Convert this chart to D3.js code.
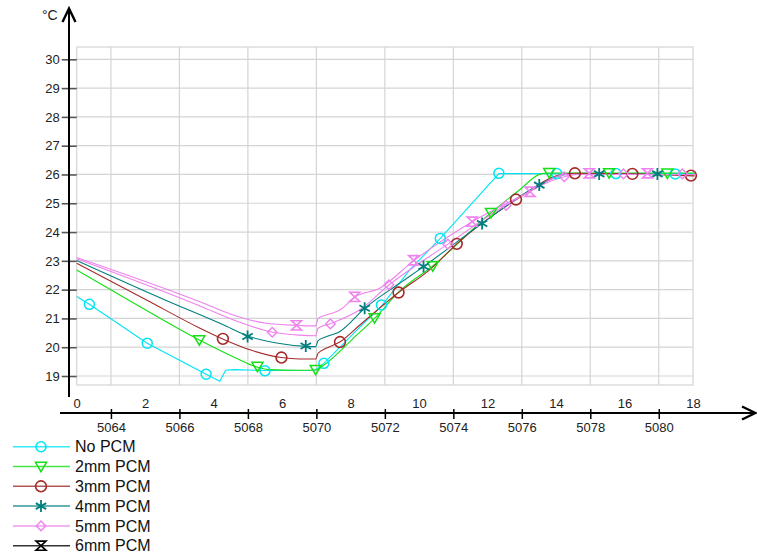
<!DOCTYPE html>
<html>
<head>
<meta charset="utf-8">
<script src="https://cdn.jsdelivr.net/npm/d3@7/dist/d3.min.js"></script>
<style>
  html, body { margin: 0; padding: 0; background: #fff; }
  svg { display: block; font-family: "Liberation Sans", Arial, sans-serif; }
</style>
</head>
<body>
<svg id="chart" width="757" height="556"></svg>
<script>
// ---------------- DATA ----------------
const seriesNames = ["No PCM", "2mm PCM", "3mm PCM", "4mm PCM", "5mm PCM", "6mm PCM"];
const yTicks = [19, 20, 21, 22, 23, 24, 25, 26, 27, 28, 29, 30];
const timeTicks = [0, 2, 4, 6, 8, 10, 12, 14, 16, 18];
const stepTicks = [5064, 5066, 5068, 5070, 5072, 5074, 5076, 5078, 5080];

// line points [time, °C]
const noPcmLine = [[0,21.76],[0.37,21.49],[2.06,20.14],[3.78,19.06],[4.18,18.82],[4.35,19.2],[4.6,19.22],[5.5,19.19],[6.95,19.2],[7.22,19.44],[7.69,20.0],[8.27,20.7],[8.9,21.43],[9.72,22.68],[10.62,23.78],[12.33,26.03],[18.05,26.03]];
const pcm2Line = [[0,22.68],[1.51,21.64],[3.58,20.25],[4.57,19.67],[5.27,19.31],[5.64,19.22],[6.5,19.2],[6.98,19.21],[7.22,19.38],[7.68,19.85],[8.07,20.3],[8.7,21.0],[9.43,21.95],[10.4,22.82],[12.1,24.67],[12.93,25.46],[13.55,26.02],[13.75,26.05],[18.05,26.05]];
const pcm3Line = [[0,22.92],[2.04,21.64],[3.6,20.66],[4.28,20.28],[5.06,19.91],[5.98,19.64],[6.5,19.59],[6.98,19.59],[7.05,19.79],[7.3,19.97],[7.68,20.18],[8.27,20.77],[9.4,21.9],[10.3,22.68],[11.1,23.59],[12.83,25.12],[14.1,25.98],[14.55,26.04],[16.23,26.02],[18.05,25.95]];
const pcm4Line = [[0,23.01],[2.58,21.64],[4.28,20.78],[5.0,20.39],[5.98,20.12],[6.69,20.03],[6.98,20.02],[7.05,20.23],[7.3,20.37],[7.68,20.54],[8.41,21.35],[9.43,22.22],[10.13,22.8],[11.84,24.3],[13.51,25.63],[14.3,26.0],[18.05,26.0]];
const pcm5Line = [[0,23.07],[3.6,21.43],[4.57,20.95],[5.72,20.52],[6.5,20.42],[6.98,20.4],[7.05,20.66],[7.39,20.81],[8.27,21.3],[9.12,22.16],[10.84,23.58],[12.54,24.94],[14.24,25.92],[14.6,26.0],[18.05,26.0]];
const pcm6Line = [[0,23.12],[3.6,21.58],[4.57,21.12],[5.54,20.83],[6.42,20.76],[6.98,20.74],[7.05,21.0],[7.4,21.16],[7.7,21.3],[8.12,21.74],[8.85,22.05],[9.84,23.0],[11.55,24.36],[13.24,25.4],[14.3,26.0],[18.05,26.0]];

// marker points [time, °C]
const noPcmMarks = [[0.37,21.49],[2.06,20.14],[3.78,19.06],[5.5,19.18],[7.22,19.44],[8.9,21.47],[10.62,23.78],[12.33,26.04],[14.02,26.03],[15.75,26.03],[17.48,26.02]];
const pcm2Marks = [[3.58,20.25],[5.28,19.33],[6.98,19.22],[8.7,21.02],[10.4,22.82],[12.1,24.67],[13.8,26.06],[15.55,26.05],[17.25,26.04]];
const pcm3Marks = [[4.27,20.29],[5.98,19.64],[7.69,20.18],[9.4,21.9],[11.1,23.59],[12.83,25.13],[14.55,26.04],[16.23,26.02],[17.94,25.96]];
const pcm4Marks = [[4.99,20.37],[6.69,20.04],[8.41,21.35],[10.13,22.8],[11.84,24.3],[13.51,25.63],[15.26,26.02],[16.96,26.02]];
const pcm5Marks = [[5.71,20.52],[7.41,20.81],[9.12,22.17],[10.84,23.58],[12.54,24.92],[14.24,25.92],[15.97,26.02],[17.69,26.02]];
const pcm6Marks = [[6.42,20.76],[8.12,21.75],[9.84,23.02],[11.55,24.36],[13.24,25.4],[14.97,26.04],[16.67,26.04]];

// ---------------- STYLE ----------------
const colors = ["#00e4f4", "#14e014", "#a52a2a", "#007f7f", "#ee82ee", "#ee82ee"];
const legendColors = ["#00e4f4", "#14e014", "#a52a2a", "#007f7f", "#ee82ee", "#000000"];
const shapes = ["circle", "triangle", "circleBig", "asterisk", "diamond", "hourglass"];
const curves = [d3.curveLinear, d3.curveMonotoneX, d3.curveMonotoneX, d3.curveMonotoneX, d3.curveMonotoneX, d3.curveMonotoneX];
const lines = [noPcmLine, pcm2Line, pcm3Line, pcm4Line, pcm5Line, pcm6Line];
const marks = [noPcmMarks, pcm2Marks, pcm3Marks, pcm4Marks, pcm5Marks, pcm6Marks];

const svg = d3.select("#chart");

const x = d3.scaleLinear().domain([0, 18]).range([76.7, 693]);
const xStep = d3.scaleLinear().domain([5063, 5081]).range([76.7, 693]);
const y = d3.scaleLinear().domain([19, 30]).range([376, 59.3]);

const boxTop = y.invert(47), boxBottom = y.invert(385);

// plot box + grid
const grid = svg.append("g");
grid.append("rect")
  .attr("x", x(0)).attr("y", y(boxTop))
  .attr("width", x(18) - x(0)).attr("height", y(boxBottom) - y(boxTop))
  .attr("fill", "#fff").attr("stroke", "#d4d4d4").attr("stroke-width", 1.2);
grid.selectAll("line.h").data(yTicks).join("line")
  .attr("x1", x(0)).attr("x2", x(18))
  .attr("y1", d => y(d)).attr("y2", d => y(d))
  .attr("stroke", "#d4d4d4").attr("stroke-width", 1.2);
grid.selectAll("line.v").data(stepTicks).join("line")
  .attr("x1", d => xStep(d)).attr("x2", d => xStep(d))
  .attr("y1", y(boxTop)).attr("y2", y(boxBottom))
  .attr("stroke", "#d4d4d4").attr("stroke-width", 1.2);

// y axis ticks + labels
const yAxis = svg.append("g").attr("transform", `translate(${x(0)},0)`)
  .call(d3.axisLeft(y).tickValues(yTicks).tickSize(15).tickPadding(2).tickFormat(d3.format("d")));
yAxis.select(".domain").remove();
yAxis.selectAll(".tick line").attr("stroke", "#555").attr("stroke-width", 1.6);
yAxis.selectAll("text").attr("font-size", 13).attr("fill", "#222").attr("font-family", "Liberation Sans, Arial, sans-serif");

// vertical black axis with arrow
svg.append("line").attr("x1", 69).attr("x2", 69).attr("y1", 397).attr("y2", 9)
  .attr("stroke", "#000").attr("stroke-width", 2);
svg.append("path").attr("d", "M62.5,22 L69,8.5 L75.5,22")
  .attr("fill", "none").attr("stroke", "#000").attr("stroke-width", 2.4).attr("stroke-linejoin", "miter");
svg.append("text").attr("x", 42).attr("y", 20).attr("font-size", 14).attr("fill", "#222").text("°C");

// top time labels
const tAxis = svg.append("g").attr("transform", "translate(0,396)")
  .call(d3.axisBottom(x).tickValues(timeTicks).tickSize(0).tickPadding(3).tickFormat(d3.format("d")));
tAxis.select(".domain").remove();
tAxis.selectAll("text").attr("font-size", 13).attr("fill", "#222").attr("font-family", "Liberation Sans, Arial, sans-serif");

// bottom step axis
const sAxis = svg.append("g").attr("transform", "translate(0,409)")
  .call(d3.axisBottom(xStep).tickValues(stepTicks).tickSize(10).tickPadding(4).tickFormat(d3.format("d")));
sAxis.select(".domain").remove();
sAxis.selectAll(".tick line").attr("stroke", "#000").attr("stroke-width", 1.5);
sAxis.selectAll("text").attr("font-size", 13).attr("fill", "#222").attr("font-family", "Liberation Sans, Arial, sans-serif");
svg.append("line").attr("x1", 60).attr("x2", 755).attr("y1", 413).attr("y2", 413)
  .attr("stroke", "#000").attr("stroke-width", 2);
svg.append("path").attr("d", "M742,406.5 L755.5,413 L742,419.5")
  .attr("fill", "none").attr("stroke", "#000").attr("stroke-width", 2.4);

// marker drawing
function drawMarker(g, shape, color) {
  const sw = 1.4;
  if (shape === "circle") {
    g.append("circle").attr("r", 5).attr("fill", "none").attr("stroke", color).attr("stroke-width", 1.5);
  } else if (shape === "circleBig") {
    g.append("circle").attr("r", 5.4).attr("fill", "none").attr("stroke", color).attr("stroke-width", 1.6);
  } else if (shape === "triangle") {
    g.append("path").attr("d", "M-5.5,-4.2 L5.5,-4.2 L0,5.2 Z").attr("fill", "none").attr("stroke", color).attr("stroke-width", 1.5);
  } else if (shape === "asterisk") {
    g.append("path").attr("d", "M0,-6 L0,6 M-5.2,-3 L5.2,3 M-5.2,3 L5.2,-3")
      .attr("fill", "none").attr("stroke", color).attr("stroke-width", 1.8);
  } else if (shape === "diamond") {
    g.append("path").attr("d", "M0,-4.8 L4.8,0 L0,4.8 L-4.8,0 Z").attr("fill", "none").attr("stroke", color).attr("stroke-width", sw);
  } else if (shape === "hourglass") {
    g.append("path").attr("d", "M-5,-4.6 H5 L-5,4.6 H5 Z").attr("fill", "none").attr("stroke", color).attr("stroke-width", 1.6);
  }
}

// series
lines.forEach((pts, i) => {
  const lineGen = d3.line().x(d => x(d[0])).y(d => y(d[1])).curve(curves[i]);
  svg.append("path").attr("d", lineGen(pts)).attr("fill", "none")
    .attr("stroke", colors[i]).attr("stroke-width", 1.1);
});
marks.forEach((pts, i) => {
  pts.forEach(p => {
    const g = svg.append("g").attr("transform", `translate(${x(p[0])},${y(p[1])})`);
    drawMarker(g, shapes[i], colors[i]);
  });
});

// legend
const legend = svg.append("g");
seriesNames.forEach((name, i) => {
  const ly = 446.7 + i * 19.8;
  legend.append("line").attr("x1", 13).attr("x2", 70).attr("y1", ly).attr("y2", ly)
    .attr("stroke", legendColors[i]).attr("stroke-width", 1.5).attr("stroke-opacity", 0.8);
  const g = legend.append("g").attr("transform", `translate(41,${ly})`);
  drawMarker(g, shapes[i], legendColors[i]);
  legend.append("text").attr("x", 75).attr("y", ly).attr("dy", "0.36em")
    .attr("font-size", 16).attr("fill", "#111").text(name);
});
</script>
</body>
</html>
